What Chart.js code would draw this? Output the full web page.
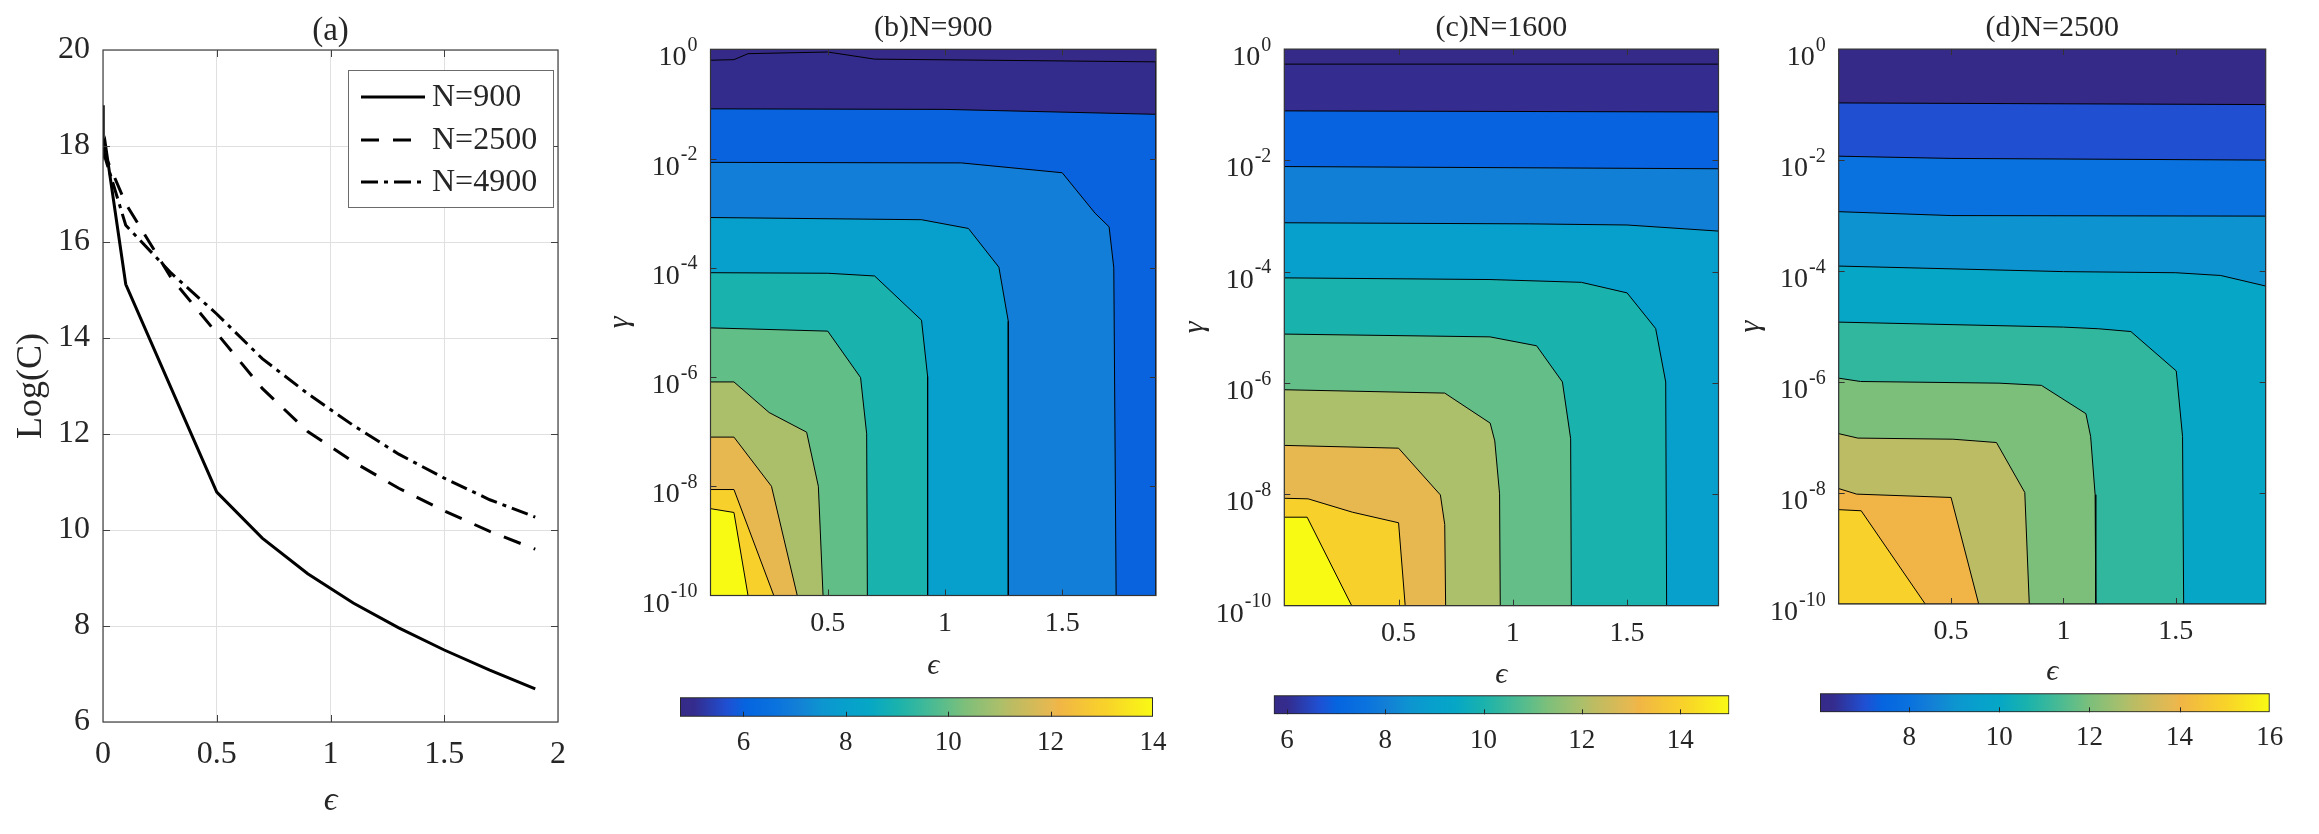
<!DOCTYPE html>
<html>
<head>
<meta charset="utf-8">
<script src="https://cdn.jsdelivr.net/npm/chart.js@4.4.1/dist/chart.umd.min.js"></script>
<style>
  html, body { margin: 0; padding: 0; background: #fff; }
  body { width: 2319px; height: 834px; position: relative; overflow: hidden; }
  canvas { position: absolute; }
</style>
</head>
<body>
<canvas id="panelA"></canvas>
<canvas id="panelB"></canvas>
<canvas id="panelC"></canvas>
<canvas id="panelD"></canvas>
<canvas id="barB"></canvas>
<canvas id="barC"></canvas>
<canvas id="barD"></canvas>
<script>
const FONT = '"Liberation Serif", "Times New Roman", serif';
const INK = '#262626';

// (a) Log(C) against epsilon
const epsA = [0, 0.001, 0.01, 0.1, 0.3, 0.5, 0.7, 0.9, 1.1, 1.3, 1.5, 1.7, 1.9];
const logC900 = [18.85, 17.85, 18.05, 15.12, 12.95, 10.79, 9.83, 9.09, 8.48, 7.96, 7.5, 7.08, 6.69];
const logC2500 = [17.95, 17.9, 17.8, 16.8, 15.25, 14.1, 12.95, 12.05, 11.42, 10.87, 10.4, 9.97, 9.6];
const logC4900 = [17.9, 17.85, 17.75, 16.35, 15.35, 14.5, 13.57, 12.84, 12.18, 11.58, 11.08, 10.63, 10.27];
const seriesN = ['N=900', 'N=2500', 'N=4900'];
const epsTicksA = [0, 0.5, 1, 1.5, 2];
const logCTicks = [6, 8, 10, 12, 14, 16, 18, 20];

// (b)-(d) contour maps, each line as [eps, log10(gamma)] from the left edge round to the bottom (or right) edge
const epsTicks = [0.5, 1, 1.5];
const gammaTicks = [1, 1e-2, 1e-4, 1e-6, 1e-8, 1e-10];

const levelsB = [5, 6, 7, 8, 9, 10, 11, 12, 13, 14];
const climB = [4.76, 14];
const cbTicksB = [6, 8, 10, 12, 14];
const contoursB = [
  [[0, -0.2], [0.1, -0.19], [0.16, -0.08], [0.5, -0.05], [0.7, -0.18], [1.9, -0.23]],
  [[0, -1.09], [1, -1.1], [1.9, -1.19]],
  [[0, -2.07], [1.07, -2.08], [1.5, -2.26], [1.64, -3.0], [1.7, -3.25], [1.72, -4.0], [1.73, -10]],
  [[0, -3.08], [0.9, -3.12], [1.1, -3.28], [1.23, -3.99], [1.27, -4.98], [1.27, -10]],
  [[0, -4.09], [0.5, -4.1], [0.7, -4.15], [0.9, -4.96], [0.926, -5.99], [0.926, -10]],
  [[0, -5.1], [0.5, -5.16], [0.64, -6.01], [0.666, -7.04], [0.669, -10]],
  [[0, -6.09], [0.1, -6.09], [0.25, -6.65], [0.41, -7.01], [0.46, -8.0], [0.48, -10]],
  [[0, -7.1], [0.1, -7.1], [0.26, -8.0], [0.37, -10]],
  [[0, -8.06], [0.1, -8.06], [0.27, -10]],
  [[0, -8.41], [0.1, -8.48], [0.16, -10]]
];

const levelsC = [6, 7, 8, 9, 10, 11, 12, 13, 14, 15];
const climC = [5.73, 15];
const cbTicksC = [6, 8, 10, 12, 14];
const contoursC = [
  [[0, -0.27], [1.9, -0.27]],
  [[0, -1.11], [1.9, -1.13]],
  [[0, -2.11], [1.9, -2.15]],
  [[0, -3.12], [1.07, -3.14], [1.5, -3.16], [1.9, -3.27]],
  [[0, -4.11], [0.9, -4.14], [1.3, -4.19], [1.5, -4.38], [1.625, -5.02], [1.669, -5.98], [1.673, -10]],
  [[0, -5.12], [0.9, -5.17], [1.104, -5.33], [1.217, -5.98], [1.253, -7.0], [1.256, -10]],
  [[0, -6.12], [0.702, -6.18], [0.901, -6.72], [0.921, -7.04], [0.942, -7.99], [0.945, -10]],
  [[0, -7.12], [0.5, -7.17], [0.683, -8.01], [0.702, -8.54], [0.706, -10]],
  [[0, -8.07], [0.104, -8.08], [0.298, -8.32], [0.5, -8.51], [0.529, -10]],
  [[0, -8.41], [0.1, -8.41], [0.295, -10]]
];

const levelsD = [7, 8, 9, 10, 11, 12, 13, 14, 15];
const climD = [6.02, 16];
const cbTicksD = [8, 10, 12, 14, 16];
const contoursD = [
  [[0, -0.97], [1.9, -1.0]],
  [[0, -1.93], [0.5, -1.97], [1.9, -2.0]],
  [[0, -2.93], [0.5, -3.0], [1.9, -3.01]],
  [[0, -3.91], [1.0, -4.01], [1.5, -4.03], [1.7, -4.08], [1.9, -4.27]],
  [[0, -4.92], [1.0, -5.01], [1.157, -5.04], [1.3, -5.09], [1.502, -5.8], [1.53, -6.98], [1.535, -10]],
  [[0, -5.93], [0.097, -5.99], [0.713, -6.02], [0.902, -6.06], [1.1, -6.57], [1.121, -6.98], [1.141, -8.03], [1.144, -10]],
  [[0, -6.93], [0.085, -7.01], [0.508, -7.03], [0.702, -7.09], [0.828, -7.99], [0.848, -10]],
  [[0, -7.92], [0.08, -8.02], [0.5, -8.08], [0.623, -10]],
  [[0, -8.3], [0.1, -8.32], [0.385, -10]]
];

// parula-like colour ramp
const parulaStops = [
  [0.00, [53, 42, 135]], [0.03, [52, 44, 142]], [0.10, [31, 80, 211]], [0.14, [5, 101, 224]],
  [0.20, [10, 114, 222]], [0.25, [19, 128, 214]], [0.30, [13, 149, 208]], [0.35, [7, 160, 204]],
  [0.40, [6, 167, 198]], [0.46, [26, 178, 173]], [0.50, [51, 183, 159]], [0.57, [100, 190, 134]],
  [0.60, [124, 191, 123]], [0.68, [174, 191, 106]], [0.70, [187, 188, 99]], [0.79, [234, 184, 79]],
  [0.80, [240, 181, 70]], [0.89, [248, 208, 44]], [0.90, [248, 210, 42]], [1.00, [249, 250, 20]]
];

function parula(t) {
  t = Math.min(1, Math.max(0, t));
  for (let i = 1; i < parulaStops.length; i++) {
    const [t1, c1] = parulaStops[i];
    if (t <= t1) {
      const [t0, c0] = parulaStops[i - 1];
      const f = (t - t0) / (t1 - t0);
      const c = c0.map((v, k) => Math.round(v + (c1[k] - v) * f));
      return `rgb(${c.join(',')})`;
    }
  }
  return 'rgb(249,250,20)';
}

function placeCanvas(id, box) {
  const canvas = document.getElementById(id);
  canvas.width = box.w;
  canvas.height = box.h;
  canvas.style.left = box.x + 'px';
  canvas.style.top = box.y + 'px';
  return canvas;
}

function fixedPadding(box, area) {
  return { left: 0, top: area.top - box.y, right: box.x + box.w - area.right, bottom: 0 };
}

const setTicks = (values) => (scale) => { scale.ticks = values.map((v) => ({ value: v })); };

// plot frame with inward tick marks
const framePlugin = {
  id: 'frame',
  afterDatasetsDraw(chart, args, opts) {
    const { ctx, chartArea: a, scales } = chart;
    const len = opts.tickLength;
    ctx.save();
    ctx.strokeStyle = opts.color;
    ctx.lineWidth = 1;
    ctx.beginPath();
    for (const t of (opts.xSides.length ? scales.x.ticks : [])) {
      const px = Math.round(scales.x.getPixelForValue(t.value)) + 0.5;
      if (px <= a.left + 1 || px >= a.right - 1) continue;
      if (opts.xSides.includes('bottom')) { ctx.moveTo(px, a.bottom); ctx.lineTo(px, a.bottom - len); }
      if (opts.xSides.includes('top')) { ctx.moveTo(px, a.top); ctx.lineTo(px, a.top + len); }
    }
    for (const t of (opts.ySides.length ? scales.y.ticks : [])) {
      const py = Math.round(scales.y.getPixelForValue(t.value)) + 0.5;
      if (py <= a.top + 1 || py >= a.bottom - 1) continue;
      if (opts.ySides.includes('left')) { ctx.moveTo(a.left, py); ctx.lineTo(a.left + len, py); }
      if (opts.ySides.includes('right')) { ctx.moveTo(a.right, py); ctx.lineTo(a.right - len, py); }
    }
    ctx.stroke();
    if (opts.box) {
      ctx.lineWidth = opts.boxWidth;
      ctx.strokeRect(a.left, a.top, a.right - a.left, a.bottom - a.top);
    }
    ctx.restore();
  }
};

const areaFillPlugin = {
  id: 'areaFill',
  beforeDatasetsDraw(chart, args, opts) {
    if (!opts.color) return;
    const { ctx, chartArea: a } = chart;
    ctx.save();
    ctx.fillStyle = opts.color;
    ctx.fillRect(a.left, a.top, a.right - a.left, a.bottom - a.top);
    ctx.restore();
  }
};

const titlePlugin = {
  id: 'panelTitle',
  afterDraw(chart, args, opts) {
    const { ctx, chartArea: a } = chart;
    ctx.save();
    ctx.font = `${opts.size}px ${FONT}`;
    ctx.fillStyle = INK;
    ctx.textAlign = 'center';
    ctx.textBaseline = 'middle';
    ctx.fillText(opts.text, (a.left + a.right) / 2, opts.y);
    ctx.restore();
  }
};

// 10^k labels for the log gamma axis
const expLabelPlugin = {
  id: 'expLabels',
  afterDraw(chart, args, opts) {
    const { ctx, chartArea: a, scales: { y } } = chart;
    ctx.save();
    ctx.fillStyle = INK;
    ctx.textAlign = 'right';
    ctx.textBaseline = 'alphabetic';
    for (const t of y.ticks) {
      const py = y.getPixelForValue(t.value);
      const xr = a.left - 13;
      const sup = String(Math.round(Math.log10(t.value)));
      ctx.font = `20px ${FONT}`;
      ctx.fillText(sup, xr, py + 1.5);
      const w = ctx.measureText(sup).width;
      ctx.font = `28px ${FONT}`;
      ctx.fillText('10', xr - w - 1, py + 16);
    }
    ctx.restore();
  }
};

const legendBoxPlugin = {
  id: 'legendBox',
  afterDatasetsDraw(chart, args, opts) {
    const { ctx } = chart;
    const [x0, y0, x1, y1] = opts.rect;
    ctx.save();
    ctx.fillStyle = '#fff';
    ctx.fillRect(x0, y0, x1 - x0, y1 - y0);
    ctx.strokeStyle = '#6b6b6b';
    ctx.lineWidth = 1;
    ctx.strokeRect(x0 + 0.5, y0 + 0.5, x1 - x0, y1 - y0);
    chart.data.datasets.forEach((ds, i) => {
      const y = opts.rows[i];
      ctx.strokeStyle = ds.borderColor;
      ctx.lineWidth = ds.borderWidth;
      ctx.setLineDash(ds.borderDash || []);
      ctx.beginPath();
      ctx.moveTo(opts.lineX[0], y);
      ctx.lineTo(opts.lineX[1], y);
      ctx.stroke();
      ctx.setLineDash([]);
      ctx.fillStyle = INK;
      ctx.font = `32px ${FONT}`;
      ctx.textAlign = 'left';
      ctx.textBaseline = 'middle';
      ctx.fillText(ds.label, opts.textX, y + 1);
    });
    ctx.restore();
  }
};

// ---------- panel (a) ----------
function makeLinePanel() {
  const box = { x: 0, y: 0, w: 600, h: 834 };
  const area = { left: 103, right: 558, top: 50, bottom: 722 };
  const dashes = [[], [18, 14], [17, 6, 4, 6]];
  const datasets = [logC900, logC2500, logC4900].map((vals, i) => ({
    label: seriesN[i],
    data: epsA.map((e, j) => ({ x: e, y: vals[j] })),
    borderColor: '#000',
    borderWidth: 3,
    borderDash: dashes[i],
    pointRadius: 0,
    tension: 0,
    fill: false
  }));
  new Chart(placeCanvas('panelA', box), {
    type: 'line',
    data: { datasets },
    options: {
      responsive: false, animation: false, devicePixelRatio: 1,
      layout: { padding: fixedPadding(box, area) },
      plugins: {
        legend: { display: false }, tooltip: { enabled: false },
        frame: { color: '#404040', tickLength: 7, xSides: ['top', 'bottom'], ySides: ['left', 'right'], box: true, boxWidth: 1.2 },
        panelTitle: { text: '(a)', size: 33, y: 31 },
        legendBox: { rect: [348, 70, 553, 207], rows: [97, 140, 182], lineX: [361, 425], textX: 432 }
      },
      scales: {
        x: {
          type: 'linear', min: 0, max: 2,
          afterBuildTicks: setTicks(epsTicksA),
          grid: { color: '#e0e0e0', drawTicks: false }, border: { display: false },
          ticks: { font: { family: FONT, size: 32 }, color: INK, padding: 13, maxRotation: 0, autoSkip: false, callback: (v) => String(v) },
          title: { display: true, text: 'ϵ', color: INK, font: { family: FONT, size: 34, style: 'italic' }, padding: { top: 0, bottom: 12.6 } },
          afterFit: (s) => { s.height = box.y + box.h - area.bottom; }
        },
        y: {
          type: 'linear', min: 6, max: 20,
          afterBuildTicks: setTicks(logCTicks),
          grid: { color: '#e0e0e0', drawTicks: false }, border: { display: false },
          ticks: { font: { family: FONT, size: 32 }, color: INK, padding: 13, autoSkip: false, callback: (v) => String(v) },
          title: { display: true, text: 'Log(C)', color: INK, font: { family: FONT, size: 36 }, padding: { top: 9.9, bottom: 0 } },
          afterFit: (s) => { s.width = area.left - box.x; }
        }
      }
    },
    plugins: [framePlugin, legendBoxPlugin, titlePlugin]
  });
}

// ---------- panels (b)-(d) ----------
const panels = [
  {
    id: 'panelB', bar: 'barB', title: '(b)N=900', levels: levelsB, clim: climB, cbTicks: cbTicksB, lines: contoursB,
    box: { x: 590, y: 0, w: 600, h: 700 }, area: { left: 710.5, right: 1156, top: 49.3, bottom: 595.5 },
    xTitleY: 666, yTitleX: 620,
    barBox: { x: 680, y: 685, w: 510, h: 100 }, barArea: { left: 707.7, right: 1153, top: 697.3, bottom: 716.7 }, barPad: 10.4
  },
  {
    id: 'panelC', bar: 'barC', title: '(c)N=1600', levels: levelsC, clim: climC, cbTicks: cbTicksC, lines: contoursC,
    box: { x: 1175, y: 0, w: 570, h: 700 }, area: { left: 1284.3, right: 1718.5, top: 49.1, bottom: 605.7 },
    xTitleY: 675, yTitleX: 1195,
    barBox: { x: 1270, y: 685, w: 490, h: 100 }, barArea: { left: 1294.3, right: 1729.3, top: 695.3, bottom: 714.3 }, barPad: 10.2
  },
  {
    id: 'panelD', bar: 'barD', title: '(d)N=2500', levels: levelsD, clim: climD, cbTicks: cbTicksD, lines: contoursD,
    box: { x: 1728, y: 0, w: 591, h: 700 }, area: { left: 1838.7, right: 2265.7, top: 49.1, bottom: 604 },
    xTitleY: 672, yTitleX: 1751,
    barBox: { x: 1820, y: 683, w: 499, h: 100 }, barArea: { left: 1842.3, right: 2269.7, top: 693.3, bottom: 712.3 }, barPad: 9.2
  }
];

// each contour becomes a closed region (value >= level) that includes the lower-left corner
function contourDatasets(p) {
  const xMax = 1.9;
  const yMin = 1e-10;
  return p.lines.map((line, i) => {
    const pts = line.map(([e, g]) => ({ x: e, y: Math.pow(10, g) }));
    if (line[line.length - 1][0] >= xMax) pts.push({ x: xMax, y: yMin });
    pts.push({ x: 0, y: yMin });
    return {
      data: pts,
      fill: 'shape',
      backgroundColor: parula((p.levels[i] - p.clim[0]) / (p.clim[1] - p.clim[0])),
      borderColor: '#000',
      borderWidth: 1,
      pointRadius: 0,
      tension: 0,
      order: p.lines.length - i
    };
  });
}

function makeContourPanel(p) {
  const { box, area } = p;
  new Chart(placeCanvas(p.id, box), {
    type: 'line',
    data: { datasets: contourDatasets(p) },
    options: {
      responsive: false, animation: false, devicePixelRatio: 1,
      layout: { padding: fixedPadding(box, area) },
      plugins: {
        legend: { display: false }, tooltip: { enabled: false },
        areaFill: { color: parula(0) },
        frame: { color: '#333', tickLength: 6, xSides: ['top', 'bottom'], ySides: ['left', 'right'], box: true, boxWidth: 1.2 },
        panelTitle: { text: p.title, size: 30, y: 28 }
      },
      scales: {
        x: {
          type: 'linear', min: 0, max: 1.9,
          afterBuildTicks: setTicks(epsTicks),
          grid: { display: false, drawTicks: false }, border: { display: false },
          ticks: { font: { family: FONT, size: 28 }, color: INK, padding: 11, maxRotation: 0, autoSkip: false, callback: (v) => String(v) },
          title: { display: true, text: 'ϵ', color: INK, font: { family: FONT, size: 30, style: 'italic' }, padding: { top: 0, bottom: box.h - (p.xTitleY - box.y) - 18 } },
          afterFit: (s) => { s.height = box.y + box.h - area.bottom; }
        },
        y: {
          type: 'logarithmic', min: 1e-10, max: 1,
          afterBuildTicks: setTicks(gammaTicks),
          grid: { display: false, drawTicks: false }, border: { display: false },
          ticks: { display: false },
          title: { display: true, text: 'γ', color: INK, font: { family: FONT, size: 30, style: 'italic' }, padding: { top: p.yTitleX - box.x - 18, bottom: 0 } },
          afterFit: (s) => { s.width = area.left - box.x; }
        }
      }
    },
    plugins: [areaFillPlugin, framePlugin, titlePlugin, expLabelPlugin]
  });
}

function makeColorbar(p) {
  const box = p.barBox;
  const area = p.barArea;
  new Chart(placeCanvas(p.bar, box), {
    type: 'bar',
    data: {
      labels: [''],
      datasets: [{
        data: [[p.clim[0], p.clim[1]]],
        backgroundColor: (c) => {
          const a = c.chart.chartArea;
          if (!a) return parula(0.5);
          const g = c.chart.ctx.createLinearGradient(a.left, 0, a.right, 0);
          parulaStops.forEach(([t, col]) => g.addColorStop(t, `rgb(${col.join(',')})`));
          return g;
        },
        borderColor: INK,
        borderWidth: 1.3,
        borderSkipped: false,
        barPercentage: 1,
        categoryPercentage: 1
      }]
    },
    options: {
      indexAxis: 'y',
      responsive: false, animation: false, devicePixelRatio: 1,
      layout: { padding: fixedPadding(box, area) },
      plugins: {
        legend: { display: false }, tooltip: { enabled: false },
        frame: { color: INK, tickLength: 5, xSides: ['bottom'], ySides: [], box: false }
      },
      scales: {
        x: {
          type: 'linear', min: p.clim[0], max: p.clim[1],
          afterBuildTicks: setTicks(p.cbTicks),
          grid: { display: false, drawTicks: false }, border: { display: false },
          ticks: { font: { family: FONT, size: 27 }, color: INK, padding: p.barPad, maxRotation: 0, autoSkip: false, callback: (v) => String(v) },
          afterFit: (s) => { s.height = box.y + box.h - area.bottom; }
        },
        y: { display: false }
      }
    },
    plugins: [framePlugin]
  });
}

makeLinePanel();
panels.forEach((p) => { makeContourPanel(p); makeColorbar(p); });
</script>
</body>
</html>
